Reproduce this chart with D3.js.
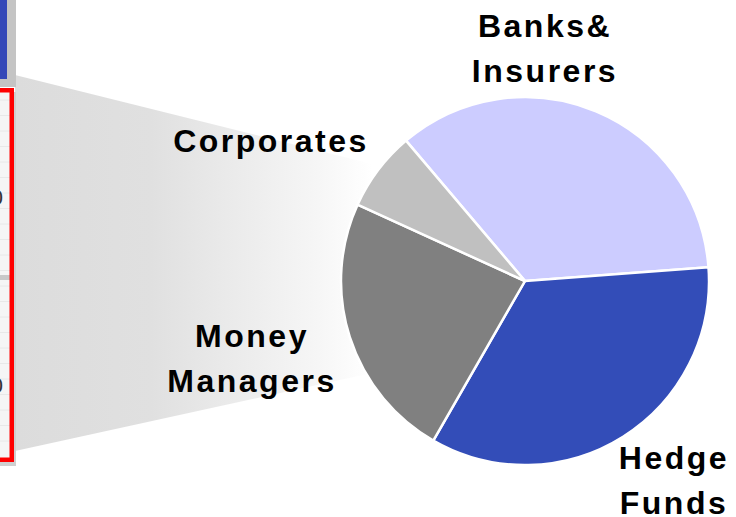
<!DOCTYPE html>
<html>
<head>
<meta charset="utf-8">
<script src="https://cdn.jsdelivr.net/npm/d3@7"></script>
<style>
html,body{margin:0;padding:0;background:#fff;}
svg{display:block;}
text{font-family:"Liberation Sans",Arial,sans-serif;font-weight:bold;}
</style>
</head>
<body>
<script>
const categories = ["Banks& Insurers", "Hedge Funds", "Money Managers", "Corporates"];
const values = [35, 34.5, 23.5, 7];
const colors = ["#ccccff", "#334db8", "#808080", "#c0c0c0"];
const labelLines = [["Banks&", "Insurers"], ["Hedge", "Funds"], ["Money", "Managers"], ["Corporates"]];

const W = 736, H = 517;
const svg = d3.select("body").append("svg").attr("width", W).attr("height", H);

const defs = svg.append("defs");
const grad = defs.append("linearGradient").attr("id", "fade")
  .attr("gradientUnits", "userSpaceOnUse").attr("x1", 15).attr("y1", 0).attr("x2", 372).attr("y2", 0);
grad.append("stop").attr("offset", 0).attr("stop-color", "#dcdcdc");
grad.append("stop").attr("offset", 0.38).attr("stop-color", "#e0e0e0");
grad.append("stop").attr("offset", 0.85).attr("stop-color", "#f6f6f6");
grad.append("stop").attr("offset", 1).attr("stop-color", "#ffffff");

// zoom-in trapezoid
svg.append("path")
  .attr("d", "M15,75 L372,164 L372,373 L15,451 Z")
  .attr("fill", "url(#fade)");

// cropped slide elements on the left
svg.append("rect").attr("x", 0).attr("y", 0).attr("width", 16).attr("height", 87).attr("fill", "#c4c4c4");
svg.append("rect").attr("x", 0).attr("y", 0).attr("width", 7).attr("height", 79).attr("fill", "#3448b8");

svg.append("rect").attr("x", 0).attr("y", 92).attr("width", 16).attr("height", 374).attr("fill", "#cfcfcf");
svg.append("rect").attr("x", 0).attr("y", 88).attr("width", 14).attr("height", 374).attr("fill", "#f5f5f5");
const gridY = d3.range(100, 456, 15.5);
svg.append("g").selectAll("line").data(gridY).join("line")
  .attr("x1", 0).attr("x2", 10).attr("y1", d => d).attr("y2", d => d)
  .attr("stroke", "#e8e8e8").attr("stroke-width", 1);
svg.append("rect").attr("x", 0).attr("y", 275).attr("width", 10).attr("height", 5).attr("fill", "#c8c8c8");
svg.append("rect").attr("x", -20).attr("y", 90.25).attr("width", 31.75).attr("height", 369.5)
  .attr("fill", "none").attr("stroke", "#ff0000").attr("stroke-width", 4.5);
[205, 393].forEach(y => {
  svg.append("text").attr("x", 3).attr("y", y).attr("text-anchor", "end")
    .attr("font-size", 22).attr("fill", "#333").style("font-weight", "normal").text("0");
});

// pie
const cx = 525, cy = 281, r = 184;
const startA = -40.3 * Math.PI / 180;
const pie = d3.pie().sort(null).value(d => d).startAngle(startA).endAngle(startA + 2 * Math.PI);
const arcs = pie(values);
const arc = d3.arc().innerRadius(0).outerRadius(r);
const g = svg.append("g").attr("transform", `translate(${cx},${cy})`);
g.selectAll("path").data(arcs).join("path")
  .attr("d", arc)
  .attr("fill", (d, i) => colors[i])
  .attr("stroke", "#fff").attr("stroke-width", 2.5).attr("stroke-linejoin", "round");

// labels
const labelPos = [[545, 37], [674, 469], [252, 347], [271, 152]];
const lineGap = 45;
labelLines.forEach((lines, i) => {
  const t = svg.append("text")
    .attr("text-anchor", "middle")
    .attr("font-size", 32)
    .attr("letter-spacing", 2.5)
    .attr("fill", "#000");
  lines.forEach((ln, j) => {
    t.append("tspan").attr("x", labelPos[i][0]).attr("y", labelPos[i][1] + j * lineGap).text(ln);
  });
});
</script>
</body>
</html>
